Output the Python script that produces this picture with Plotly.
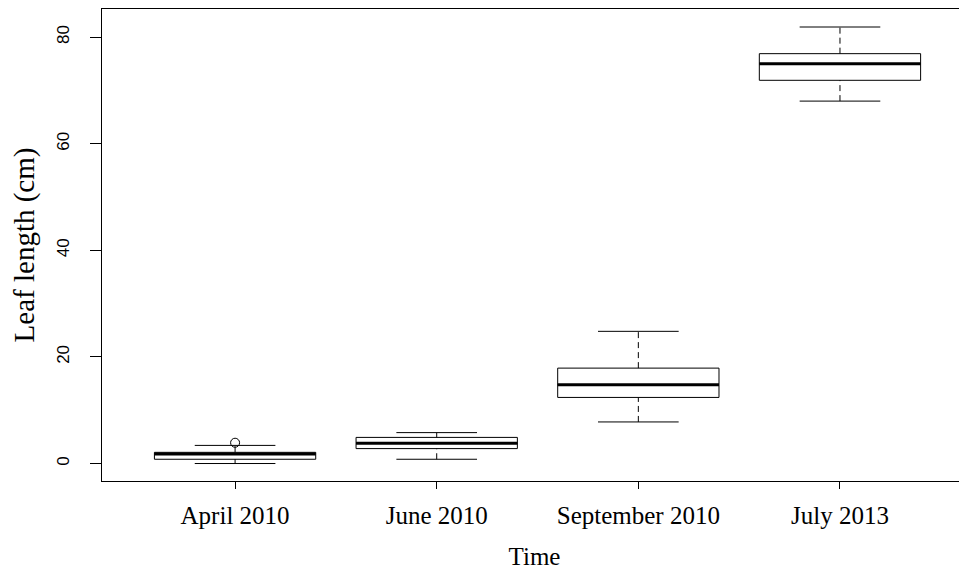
import plotly.graph_objects as go

categories = ["April 2010", "June 2010", "September 2010", "July 2013"]
positions = [1, 2, 3, 4]
lower_whisker = [0.0, 0.8, 7.8, 68.0]
q1 = [0.8, 2.8, 12.4, 71.9]
median = [1.8, 3.8, 14.8, 75.0]
q3 = [2.1, 4.9, 17.9, 76.9]
upper_whisker = [3.4, 5.8, 24.8, 81.9]
outlier_x = [1]
outlier_y = [3.9]
y_ticks = [0, 20, 40, 60, 80]

BOX_W = 0.8
CAP_HALF = 0.2
MED_HALF = 0.4

fig = go.Figure()

fig.add_trace(go.Box(
    x=positions, q1=q1, median=median, q3=q3,
    lowerfence=q1, upperfence=q3,
    width=BOX_W, whiskerwidth=0,
    fillcolor="white", line=dict(color="black", width=1),
    hoverinfo="skip", showlegend=False,
))

wx, wy = [], []
for p, lo, a, b, hi in zip(positions, lower_whisker, q1, q3, upper_whisker):
    wx += [p, p, None, p, p, None]
    wy += [lo, a, None, b, hi, None]
fig.add_trace(go.Scatter(x=wx, y=wy, mode="lines",
                         line=dict(color="black", width=1, dash="6px,4px"),
                         hoverinfo="skip", showlegend=False))

cx, cy = [], []
for p, lo, hi in zip(positions, lower_whisker, upper_whisker):
    cx += [p - CAP_HALF, p + CAP_HALF, None, p - CAP_HALF, p + CAP_HALF, None]
    cy += [lo, lo, None, hi, hi, None]
fig.add_trace(go.Scatter(x=cx, y=cy, mode="lines",
                         line=dict(color="black", width=1),
                         hoverinfo="skip", showlegend=False))

mx, my = [], []
for p, m in zip(positions, median):
    mx += [p - MED_HALF, p + MED_HALF, None]
    my += [m, m, None]
fig.add_trace(go.Scatter(x=mx, y=my, mode="lines",
                         line=dict(color="black", width=3),
                         hoverinfo="skip", showlegend=False))

fig.add_trace(go.Scatter(x=outlier_x, y=outlier_y, mode="markers",
                         marker=dict(symbol="circle-open", size=9,
                                     color="black", line=dict(width=1)),
                         hoverinfo="skip", showlegend=False))

fig.update_layout(
    width=959, height=570,
    margin=dict(l=94, r=0, t=1, b=97, autoexpand=False),
    plot_bgcolor="white", paper_bgcolor="white",
    showlegend=False,
)
fig.update_xaxes(
    automargin=False,
    range=[0.34, 4.63],
    tickmode="array", tickvals=positions, ticktext=categories,
    ticks="outside", ticklen=7, tickcolor="black", tickwidth=1,
    showline=True, linecolor="black", linewidth=1, mirror=True,
    showgrid=False, zeroline=False,
    tickfont=dict(family="Liberation Serif", size=25, color="black"),
    ticklabelstandoff=5,
    title=dict(text="Time", font=dict(family="Liberation Serif", size=25, color="black"),
               standoff=19),
)
fig.update_yaxes(
    automargin=False,
    range=[-3.28, 85.28],
    tickmode="array", tickvals=y_ticks,
    ticks="outside", ticklen=11, tickcolor="black", tickwidth=1,
    showline=True, linecolor="black", linewidth=1, mirror=False,
    showgrid=False, zeroline=False,
    tickangle=-90,
    tickfont=dict(family="Liberation Sans", size=17, color="black"),
    ticklabelstandoff=14,
    title=dict(text="Leaf length (cm)", font=dict(family="Liberation Serif", size=29, color="black"),
               standoff=14),
)

fig.write_html("out.html")
